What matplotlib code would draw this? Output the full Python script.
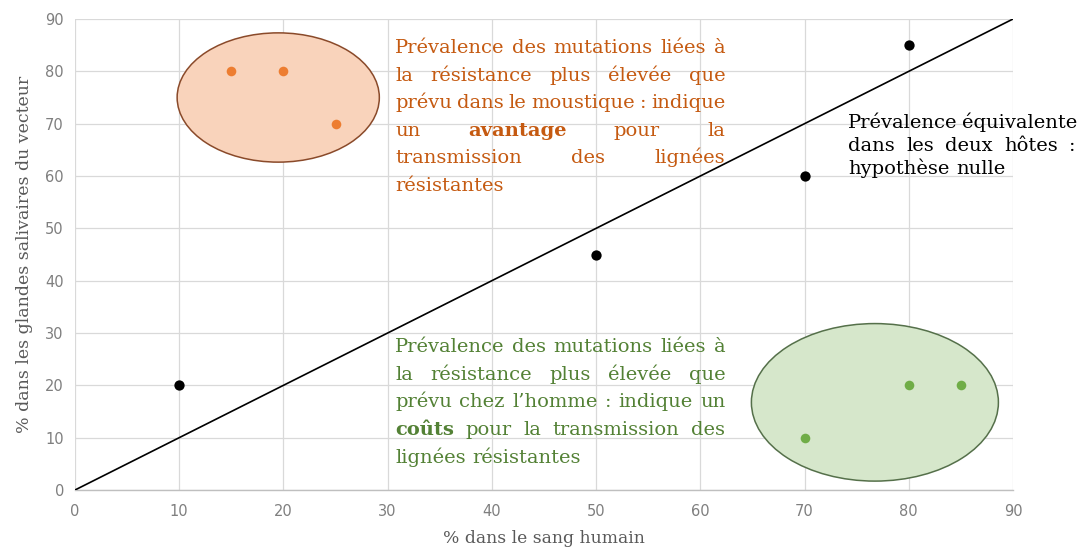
import matplotlib
matplotlib.use("Agg")
import matplotlib.pyplot as plt
from matplotlib.patches import Ellipse
from matplotlib.transforms import IdentityTransform

# ---- data ----
x_black = [10, 50, 70, 80]
y_black = [20, 45, 60, 85]
x_orange = [15, 20, 25]
y_orange = [80, 80, 70]
x_green = [70, 80, 85]
y_green = [10, 20, 20]
diag = [0, 90]
ticks = list(range(0, 91, 10))

orange_lines = [
    [("Prévalence", False), ("des", False), ("mutations", False), ("liées", False), ("à", False)],
    [("la", False), ("résistance", False), ("plus", False), ("élevée", False), ("que", False)],
    [("prévu", False), ("dans", False), ("le", False), ("moustique", False), (":", False), ("indique", False)],
    [("un", False), ("avantage", True), ("pour", False), ("la", False)],
    [("transmission", False), ("des", False), ("lignées", False)],
    [("résistantes", False)],
]
green_lines = [
    [("Prévalence", False), ("des", False), ("mutations", False), ("liées", False), ("à", False)],
    [("la", False), ("résistance", False), ("plus", False), ("élevée", False), ("que", False)],
    [("prévu", False), ("chez", False), ("l’homme", False), (":", False), ("indique", False), ("un", False)],
    [("coûts", True), ("pour", False), ("la", False), ("transmission", False), ("des", False)],
    [("lignées", False), ("résistantes", False)],
]
black_lines = [
    [("Prévalence", False), ("équivalente", False)],
    [("dans", False), ("les", False), ("deux", False), ("hôtes", False), (":", False)],
    [("hypothèse", False), ("nulle", False)],
]

W, H = 1082, 554
fig = plt.figure(figsize=(W / 100, H / 100), dpi=100)
ax = fig.add_axes([75 / W, 1 - 490 / H, (1013 - 75) / W, (490 - 19) / H])
ax.set_xlim(0, 90)
ax.set_ylim(0, 90)
ax.set_xticks(ticks)
ax.set_yticks(ticks)
ax.grid(True, color="#d9d9d9", lw=0.9, zorder=0)
ax.set_axisbelow(True)
for s in ["top", "right", "left"]:
    ax.spines[s].set_visible(False)
ax.spines["bottom"].set_color("#bfbfbf")
ax.spines["bottom"].set_linewidth(1.0)
ax.tick_params(length=0, colors="#7f7f7f", labelsize=10.5)
ax.tick_params(axis="x", pad=10)
ax.tick_params(axis="y", pad=8)
for lab in ax.get_xticklabels() + ax.get_yticklabels():
    lab.set_color("#7f7f7f")

ax.set_xlabel("% dans le sang humain", family="DejaVu Serif", fontsize=12.3,
              color="#595959", labelpad=8)
ax.set_ylabel("% dans les glandes salivaires du vecteur", family="DejaVu Serif",
              fontsize=12.5, color="#595959", labelpad=9)

# ellipses
ax.add_patch(Ellipse((19.5, 75), 19.4, 24.7, facecolor="#f9d3bb", edgecolor="#8a4a2a",
                     lw=1.1, zorder=2))
ax.add_patch(Ellipse((76.75, 16.75), 23.7, 30.1, facecolor="#d6e7cb", edgecolor="#55704a",
                     lw=1.1, zorder=2))

ax.plot(diag, diag, color="black", lw=1.2, zorder=3)
ax.scatter(x_black, y_black, s=55, color="black", zorder=4, linewidths=0)
ax.scatter(x_orange, y_orange, s=48, color="#ed7d31", zorder=4, linewidths=0)
ax.scatter(x_green, y_green, s=48, color="#70ad47", zorder=4, linewidths=0)

FS = 14
FAM = "DejaVu Serif"


def put_block(lines, x0, x1, y0, dy, color, justify_all_but_last=True):
    fig.canvas.draw()
    renderer = fig.canvas.get_renderer()
    px0, py0 = ax.transData.transform((x0, y0))
    px1, _ = ax.transData.transform((x1, y0))
    sp = fig.text(0, 0, "a a", fontsize=FS, family=FAM, transform=IdentityTransform())
    sp2 = fig.text(0, 0, "aa", fontsize=FS, family=FAM, transform=IdentityTransform())
    space = sp.get_window_extent(renderer).width - sp2.get_window_extent(renderer).width
    sp.remove()
    sp2.remove()
    for i, words in enumerate(lines):
        y = py0 - i * dy
        texts = []
        for w, bold in words:
            t = fig.text(0, y, w, transform=IdentityTransform(), fontsize=FS, family=FAM,
                         weight="bold" if bold else "normal", color=color,
                         va="baseline", ha="left", zorder=5)
            texts.append(t)
        widths = [t.get_window_extent(renderer).width for t in texts]
        last = i == len(lines) - 1
        if len(texts) > 1 and not (last and justify_all_but_last):
            gap = (px1 - px0 - sum(widths)) / (len(texts) - 1)
            gap = max(gap, space * 0.6)
        else:
            gap = space
        x = px0
        for t, w in zip(texts, widths):
            t.set_x(x)
            x += w + gap


put_block(orange_lines, 30.7, 62.4, 83.5, 27.5, "#c55a11")
put_block(green_lines, 30.7, 62.4, 26.4, 27.7, "#538135")
put_block(black_lines, 74.2, 96.0, 69.2, 23.0, "#000000")

fig.savefig("out.png", dpi=100)
